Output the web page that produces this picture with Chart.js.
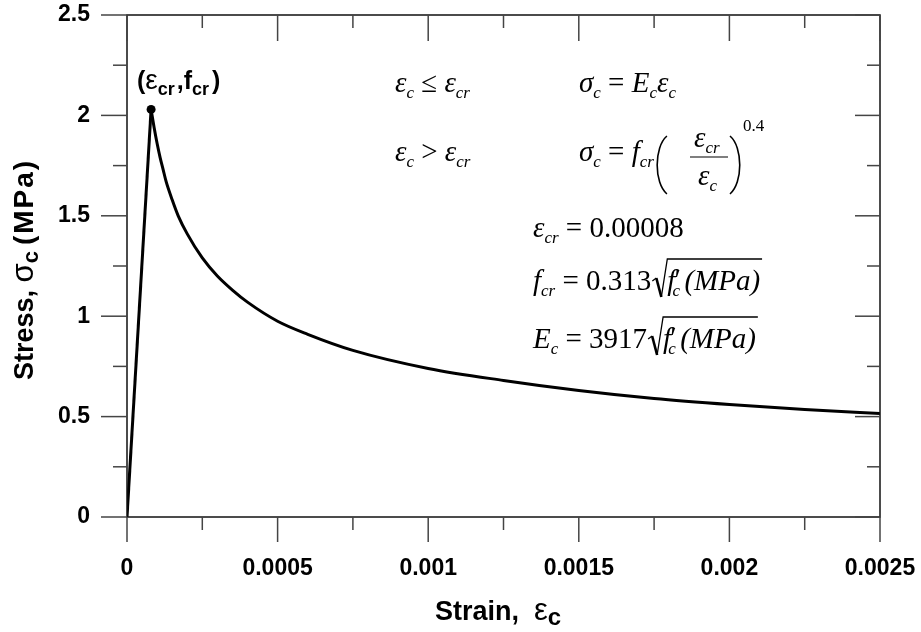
<!DOCTYPE html>
<html>
<head>
<meta charset="utf-8">
<script src="https://cdn.jsdelivr.net/npm/chart.js@4.4.1/dist/chart.umd.min.js"></script>
<style>
  html, body { margin: 0; padding: 0; background: #fff; }
  #wrap { width: 921px; height: 632px; position: relative; }
</style>
</head>
<body>
<div id="wrap"><canvas id="stressChart"></canvas></div>
<script>
// values
const strainRise = [0, 0.00008];
const stressRise = [0, 2.03];

const strainSoft = [0.00008, 0.00009, 0.0001, 0.00011, 0.00012, 0.00013, 0.00015, 0.00017,
  0.0002, 0.00025, 0.0003, 0.00035, 0.0004, 0.0005, 0.0006, 0.00075, 0.001, 0.00125,
  0.0015, 0.00175, 0.002, 0.00225, 0.0025];
const stressSoft = [2.03, 1.94, 1.86, 1.79, 1.73, 1.67, 1.58, 1.50,
  1.41, 1.29, 1.20, 1.13, 1.07, 0.975, 0.91, 0.83, 0.74, 0.68,
  0.63, 0.59, 0.56, 0.535, 0.515];

const peakStrain = [0.00008];
const peakStress = [2.03];

const xTickLabels = ['0', '0.0005', '0.001', '0.0015', '0.002', '0.0025'];
const yTickLabels = ['0', '0.5', '1', '1.5', '2', '2.5'];
const xMajor = [0, 0.0005, 0.001, 0.0015, 0.002, 0.0025];
const xMinor = [0.00025, 0.00075, 0.00125, 0.00175, 0.00225];
const yMajor = [0, 0.5, 1, 1.5, 2, 2.5];
const yMinor = [0.25, 0.75, 1.25, 1.75, 2.25];

const toXY = (xs, ys) => xs.map((x, i) => ({ x, y: ys[i] }));

const SERIF_I = s => `italic ${s}px "Liberation Serif"`;
const SERIF = s => `${s}px "Liberation Serif"`;
const SANS_B = s => `bold ${s}px "Liberation Sans"`;
const SANS = s => `${s}px "Liberation Sans"`;

// draw a row of text pieces left to right, returns end x
function runs(ctx, x, y, parts) {
  for (const p of parts) {
    ctx.font = p.f;
    ctx.letterSpacing = p.ls || '0px';
    ctx.fillText(p.t, x, y + (p.dy || 0));
    x += ctx.measureText(p.t).width + (p.gap || 0);
  }
  ctx.letterSpacing = '0px';
  return x;
}

function radical(ctx, x0, base, top, x1) {
  ctx.save();
  ctx.lineWidth = 1.3;
  ctx.beginPath();
  ctx.moveTo(x0, base - 9);
  ctx.lineTo(x0 + 4, base - 12);
  ctx.stroke();
  ctx.lineWidth = 2.6;
  ctx.beginPath();
  ctx.moveTo(x0 + 4, base - 12);
  ctx.lineTo(x0 + 9, base + 7);
  ctx.stroke();
  ctx.lineWidth = 1.3;
  ctx.beginPath();
  ctx.moveTo(x0 + 9, base + 7);
  ctx.lineTo(x0 + 15, top);
  ctx.lineTo(x1, top);
  ctx.stroke();
  ctx.restore();
}

// tall thin bracket, dir -1 = "(" , +1 = ")"
function bracket(ctx, x, top, bottom, dir) {
  const mid = (top + bottom) / 2;
  ctx.save();
  ctx.lineWidth = 1.6;
  ctx.beginPath();
  ctx.moveTo(x, top);
  ctx.bezierCurveTo(x + dir * 13, mid - 18, x + dir * 13, mid + 18, x, bottom);
  ctx.stroke();
  ctx.restore();
}

const frameAndText = {
  id: 'frameAndText',
  afterDraw(chart) {
    const { ctx, chartArea: a, scales: { x, y } } = chart;
    ctx.save();

    // frame
    ctx.strokeStyle = '#111';
    ctx.lineWidth = 1.5;
    ctx.strokeRect(a.left, a.top, a.right - a.left, a.bottom - a.top);

    // ticks: outward on left/bottom, inward on top/right
    ctx.strokeStyle = '#444';
    ctx.lineWidth = 1.5;
    const tick = (x1, y1, x2, y2) => { ctx.beginPath(); ctx.moveTo(x1, y1); ctx.lineTo(x2, y2); ctx.stroke(); };
    xMajor.forEach(v => {
      const px = x.getPixelForValue(v);
      tick(px, a.bottom, px, a.bottom + 25);
      tick(px, a.top, px, a.top + 26);
    });
    xMinor.forEach(v => {
      const px = x.getPixelForValue(v);
      tick(px, a.bottom, px, a.bottom + 13);
      tick(px, a.top, px, a.top + 13);
    });
    yMajor.forEach(v => {
      const py = y.getPixelForValue(v);
      tick(a.left - 26, py, a.left, py);
      tick(a.right - 25, py, a.right, py);
    });
    yMinor.forEach(v => {
      const py = y.getPixelForValue(v);
      tick(a.left - 14, py, a.left, py);
      tick(a.right - 13, py, a.right, py);
    });

    ctx.fillStyle = '#000';
    ctx.strokeStyle = '#000';
    ctx.textBaseline = 'alphabetic';
    ctx.textAlign = 'left';

    // axis titles
    runs(ctx, 435, 620, [
      { t: 'Strain,  ', f: SANS_B(27) },
      { t: 'ε', f: SANS(31) },
      { t: 'c', f: SANS_B(24), dy: 5 }
    ]);
    ctx.save();
    ctx.translate(33, 380);
    ctx.rotate(-Math.PI / 2);
    runs(ctx, 0, 0, [
      { t: 'Stress, ', f: SANS_B(27) },
      { t: 'σ', f: SANS(31) },
      { t: 'c', f: SANS_B(22), dy: 5, gap: 6 },
      { t: '(MPa)', f: SANS_B(28), ls: '2px' }
    ]);
    ctx.restore();

    // peak label
    runs(ctx, 137, 89, [
      { t: '(', f: SANS_B(25) },
      { t: 'ε', f: SANS(28) },
      { t: 'cr', f: SANS_B(18), dy: 6, gap: 2 },
      { t: ',', f: SANS_B(25) },
      { t: 'f', f: SANS_B(25) },
      { t: 'cr', f: SANS_B(18), dy: 6, gap: 3 },
      { t: ')', f: SANS_B(25) }
    ]);

    // equations
    const M = 29, S = 17, D = 6;
    const eps = { t: 'ε', f: SERIF_I(M) };
    const sub = t => ({ t, f: SERIF_I(S), dy: D });
    runs(ctx, 395, 92, [eps, sub('c'), { t: ' ≤ ', f: SERIF(M) }, eps, sub('cr')]);
    runs(ctx, 579, 92, [{ t: 'σ', f: SERIF_I(M) }, sub('c'), { t: ' = ', f: SERIF(M) },
      { t: 'E', f: SERIF_I(M) }, sub('c'), eps, sub('c')]);

    runs(ctx, 395, 161, [eps, sub('c'), { t: ' > ', f: SERIF(M) }, eps, sub('cr')]);
    const xe = runs(ctx, 579, 161, [{ t: 'σ', f: SERIF_I(M) }, sub('c'), { t: ' = ', f: SERIF(M) },
      { t: 'f', f: SERIF_I(M) }, sub('cr')]);
    bracket(ctx, xe + 13, 136, 194, -1);
    bracket(ctx, 730, 136, 194, 1);
    runs(ctx, 694, 147, [eps, sub('cr')]);
    runs(ctx, 698, 185, [eps, sub('c')]);
    ctx.lineWidth = 1.2;
    tick(690, 157, 728, 157);
    ctx.font = SERIF(17);
    ctx.fillText('0.4', 743, 131);

    runs(ctx, 533, 237, [eps, sub('cr'), { t: ' = 0.00008', f: SERIF(M) }]);

    const sqrtRow = (lead, base, top) => {
      let xr = runs(ctx, 533, base, lead);
      const x0 = xr + 1;
      let xc = x0 + 15;
      ctx.font = SERIF_I(M);
      ctx.fillText('f', xc, base);
      xc += ctx.measureText('f').width;
      ctx.font = SERIF(M);
      ctx.fillText('′', xc - 1, base - 1);
      ctx.font = SERIF_I(S);
      ctx.fillText('c', xc - 3, base + D);
      xc += 9;
      ctx.font = SERIF_I(M);
      ctx.fillText('(MPa)', xc, base);
      xc += ctx.measureText('(MPa)').width;
      radical(ctx, x0, base, top, xc + 2);
    };
    sqrtRow([{ t: 'f', f: SERIF_I(M) }, sub('cr'), { t: ' = 0.313', f: SERIF(M) }], 290, 259);
    sqrtRow([{ t: 'E', f: SERIF_I(M) }, sub('c'), { t: ' = 3917', f: SERIF(M) }], 348, 317);

    ctx.restore();
  }
};

const tickFont = { family: 'Liberation Sans', size: 23, weight: 'bold' };

new Chart(document.getElementById('stressChart'), {
  type: 'line',
  data: {
    datasets: [
      {
        data: toXY(strainRise, stressRise),
        borderColor: '#000',
        borderWidth: 3,
        pointRadius: 0,
        tension: 0
      },
      {
        data: toXY(strainSoft, stressSoft),
        borderColor: '#000',
        borderWidth: 3,
        pointRadius: 0,
        cubicInterpolationMode: 'monotone'
      },
      {
        data: toXY(peakStrain, peakStress),
        showLine: false,
        pointRadius: 4.5,
        pointBackgroundColor: '#000',
        pointBorderColor: '#000',
        pointBorderWidth: 0
      }
    ]
  },
  options: {
    responsive: true,
    maintainAspectRatio: false,
    animation: false,
    layout: { padding: { top: 15, right: 41, left: 0, bottom: 0 } },
    plugins: { legend: { display: false }, tooltip: { enabled: false } },
    scales: {
      x: {
        type: 'linear',
        min: 0,
        max: 0.0025,
        grid: { display: false, drawTicks: false },
        border: { display: false },
        ticks: {
          stepSize: 0.0005,
          padding: 38,
          maxRotation: 0,
          autoSkip: false,
          color: '#000',
          font: tickFont,
          callback: (v, i) => xTickLabels[i]
        },
        afterFit: s => { s.height = 115; s.paddingLeft = 0; s.paddingRight = 0; }
      },
      y: {
        min: 0,
        max: 2.5,
        grid: { display: false, drawTicks: false },
        border: { display: false },
        ticks: {
          stepSize: 0.5,
          padding: 37,
          color: '#000',
          font: tickFont,
          callback: (v, i) => yTickLabels[i]
        },
        afterFit: s => { s.width = 127; s.paddingTop = 0; s.paddingBottom = 0; }
      }
    }
  },
  plugins: [frameAndText]
});
</script>
</body>
</html>
